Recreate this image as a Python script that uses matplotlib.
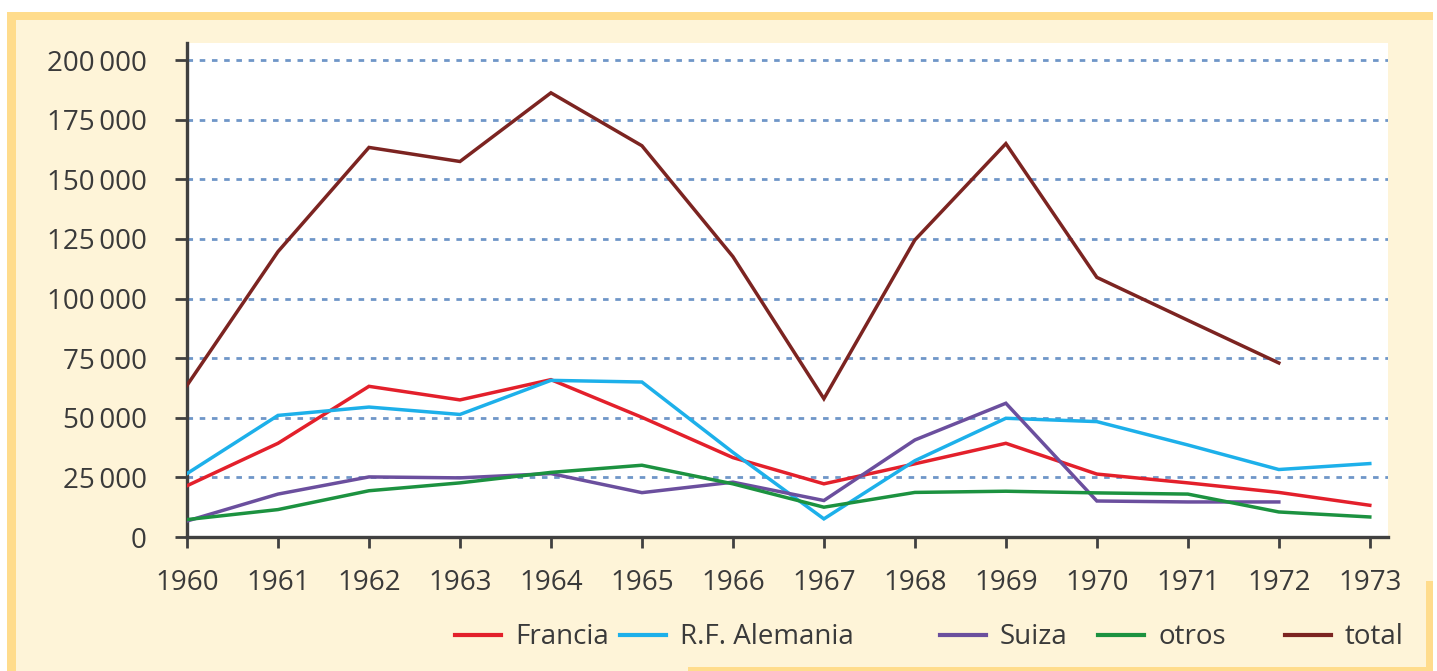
import matplotlib
matplotlib.use("Agg")
import matplotlib.pyplot as plt
from matplotlib.patches import Rectangle
from matplotlib.lines import Line2D
from matplotlib.ticker import FuncFormatter

years = list(range(1960, 1974))
francia = [21500, 39300, 63200, 57500, 66000, 50200, 33300, 22300, 30700, 39300, 26400, 22700, 18700, 13300]
alemania = [26600, 51000, 54500, 51400, 65700, 65000, 35500, 7600, 32000, 49800, 48400, 38600, 28300, 30800]
suiza = [6700, 18000, 25200, 24800, 26600, 18600, 23000, 15300, 40700, 56100, 15100, 14700, 14700]
otros = [7300, 11500, 19400, 22700, 27100, 30100, 22300, 12500, 18700, 19200, 18500, 18000, 10500, 8400]
total = [63600, 119700, 163400, 157500, 186300, 164100, 117600, 58000, 124600, 165000, 108900, 90900, 73000]

series = [
    ("Francia", francia, "#E3202B"),
    ("R.F. Alemania", alemania, "#1DB0EA"),
    ("Suiza", suiza, "#6B4F9E"),
    ("otros", otros, "#1C9240"),
    ("total", total, "#7C2421"),
]
yticks = [0, 25000, 50000, 75000, 100000, 125000, 150000, 175000, 200000]

plt.rcParams["font.family"] = ["Open Sans", "DejaVu Sans"]

W, H = 1437, 671
fig = plt.figure(figsize=(W / 100, H / 100), dpi=100)
fig.patch.set_facecolor("white")

PALE = "#FEF4D8"
GOLD = "#FFDC8C"
TXT = "#3a3a3a"


def frame_rect(x0, y0, x1, y1, color):
    # pixel coords, origin top-left
    fig.patches.append(Rectangle((x0 / W, 1 - y1 / H), (x1 - x0) / W, (y1 - y0) / H,
                                 transform=fig.transFigure, facecolor=color,
                                 edgecolor="none", zorder=-5))


frame_rect(7, 12, 1433, 671, PALE)
frame_rect(7, 12, 1433, 20, GOLD)
frame_rect(7, 12, 16, 671, GOLD)
frame_rect(1426, 581, 1433, 671, GOLD)
frame_rect(688, 667, 1433, 671, GOLD)

ax = fig.add_axes([187 / W, 1 - 537 / H, (1388 - 187) / W, (537 - 43) / H])
ax.set_zorder(2)
ax.set_facecolor("white")

for name, vals, color in series:
    ax.plot(years[:len(vals)], vals, color=color, lw=2.5, label=name, zorder=3,
            solid_joinstyle="miter")

ax.set_xlim(1960, 1973.2)
ax.set_ylim(0, 207200)
ax.set_xticks(years)
ax.set_yticks(yticks)
ax.yaxis.set_major_formatter(FuncFormatter(
    lambda v, p: "0" if v == 0 else f"{int(v):,}".replace(",", "\u2009")))

ax.yaxis.grid(True, color="#6F96C8", lw=2.0, linestyle=(0, (2.0, 2.4)), zorder=1)
ax.set_axisbelow(True)
for s in ["top", "right"]:
    ax.spines[s].set_visible(False)
for s in ["left", "bottom"]:
    ax.spines[s].set_color("#404040")
    ax.spines[s].set_linewidth(2.4)

ax.tick_params(axis="y", direction="out", length=9, width=2, color="#404040",
               labelsize=20, labelcolor=TXT, pad=20)
ax.tick_params(axis="x", direction="out", length=8, width=2, color="#404040",
               labelsize=20, labelcolor=TXT, pad=15)

# legend row along the bottom
leg_x = [455, 620, 940, 1098, 1285]
leg_y = 1 - 635 / H
for (name, vals, color), x in zip(series, leg_x):
    fig.add_artist(Line2D([x / W, (x + 46) / W], [leg_y, leg_y], color=color, lw=3,
                          transform=fig.transFigure))
    fig.text((x + 60) / W, leg_y - 2 / H, name, fontsize=20, color=TXT,
             va="center", ha="left")

fig.savefig("out.png", dpi=100, facecolor=fig.get_facecolor())
